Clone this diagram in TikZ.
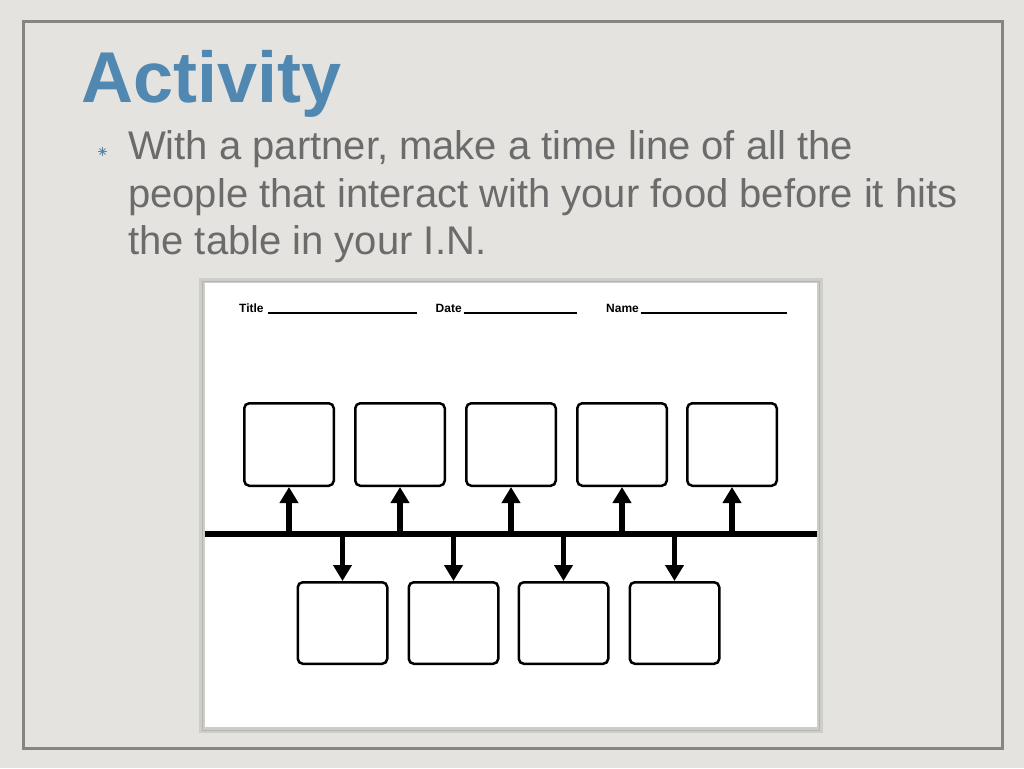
\documentclass[tikz,border=0pt]{standalone}
\usepackage{fontspec}
\setmainfont{Liberation Sans}
\usetikzlibrary{arrows.meta}
\definecolor{bg}{HTML}{E4E3DF}
\definecolor{framec}{HTML}{858581}
\definecolor{titlec}{HTML}{5088B2}
\definecolor{textc}{HTML}{6B6B6B}
\definecolor{panelc}{HTML}{CDCDC9}
\definecolor{panelline}{HTML}{B4B4B0}
\tikzset{
  box/.style={draw=black, line width=2.5pt, rounded corners=5pt, fill=white,
    minimum width=89.5pt, minimum height=82.5pt, inner sep=0pt},
  tl/.style={line width=6pt, draw=black},
  arr/.style={line width=5.5pt, draw=black, -{Triangle[width=18pt,length=16pt]}},
  hdr/.style={font=\fontsize{12}{14}\selectfont\bfseries, inner sep=0pt, anchor=base west},
  uline/.style={line width=1.6pt, draw=black},
  body/.style={font=\fontsize{40}{47.5}\selectfont, text=textc, inner sep=0pt, anchor=base west}
}
\begin{document}
\begin{tikzpicture}[x=1pt,y=-1pt]
\useasboundingbox (0,0) rectangle (1024,768);
\fill[bg] (0,0) rectangle (1024,768);
\draw[framec, line width=3pt] (23,22) rectangle (1002,748);
% title
\node[font=\fontsize{72}{80}\selectfont\bfseries, text=titlec, inner sep=0pt, anchor=base west] (title) at (81,102) {Activity};
% bullet
\coordinate (bul) at (102.5,151.5);
\foreach \a in {0,45,90,135}{
  \draw[titlec, line width=0.9pt] (bul) ++(\a:4.2pt) -- ++(\a+180:8.4pt);
}
\node[body] (l1) at (128,159.5) {With a partner, make a time line of all the};
\node[body] (l2) at (128,207) {people that interact with your food before it hits};
\node[body] (l3) at (128,254.5) {the table in your I.N.};
% panel
\fill[panelc] (199,278) rectangle (823,733);
\draw[panelline, line width=1pt] (202.5,281) rectangle (819.5,730);
\fill[white] (205,283) rectangle (817,727);
% header
\node[hdr] (ttl) at (239,312) {Title};
\draw[uline] ([xshift=4pt,yshift=-1pt]ttl.base east) -- ++(149,0);
\node[hdr] (dte) at (435.5,312) {Date};
\draw[uline] ([xshift=2pt,yshift=-1pt]dte.base east) -- ++(113,0);
\node[hdr] (nme) at (606,312) {Name};
\draw[uline] ([xshift=1.5pt,yshift=-1pt]nme.base east) -- ++(146,0);
% timeline
\coordinate (L) at (205,533.5);
\coordinate (R) at (816.5,533.5);
\draw[tl] (L) -- (R);
% top boxes
\foreach \i/\x in {1/289,2/400,3/511,4/622,5/732}{
  \node[box] (t\i) at (\x,444.5) {};
  \draw[arr] (t\i.south |- L) -- (t\i.south);
}
% bottom boxes
\foreach \i/\x in {1/342.5,2/453.5,3/563.5,4/674.5}{
  \node[box, minimum height=81.5pt] (b\i) at (\x,623) {};
  \draw[arr] (b\i.north |- L) -- (b\i.north);
}
\end{tikzpicture}
\end{document}
